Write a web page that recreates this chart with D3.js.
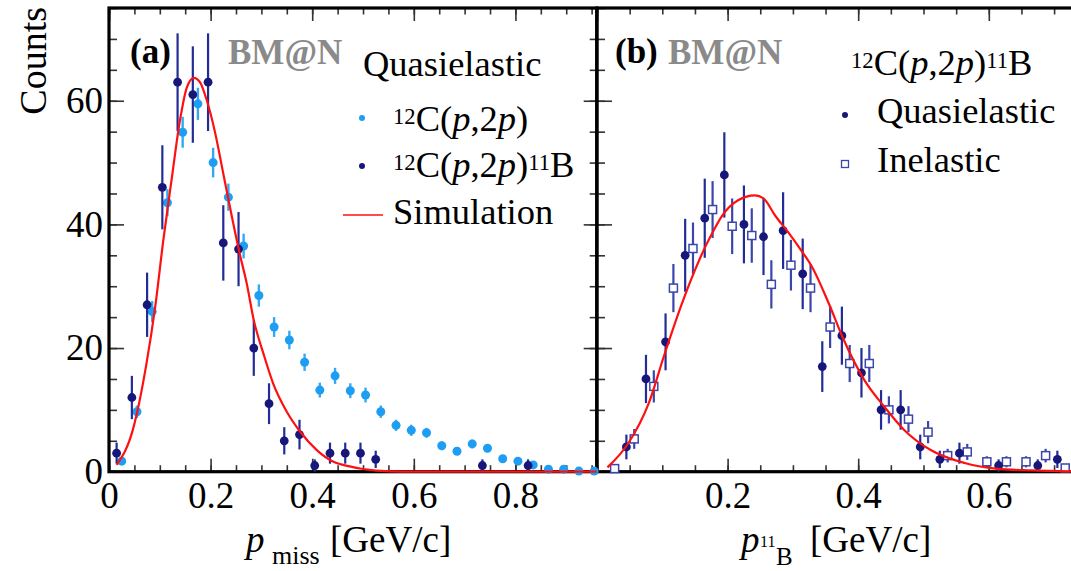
<!DOCTYPE html>
<html>
<head>
<meta charset="utf-8">
<script src="https://cdn.jsdelivr.net/npm/d3@7"></script>
<style>
  html, body { margin: 0; padding: 0; background: #fff; }
  svg { display: block; }
  text, tspan { font-family: "Liberation Serif", "Times New Roman", Times, serif; fill: #000; }
</style>
</head>
<body>
<svg id="chart" width="1071" height="571"></svg>
<script>
// ---------- Panel (a): missing-momentum distributions ----------
// 12C(p,2p)11B events (counts per 0.03 GeV/c bin)
const missBinsBoron   = [0.015, 0.045, 0.075, 0.105, 0.135, 0.165, 0.195, 0.225, 0.255, 0.285,
                         0.315, 0.345, 0.375, 0.405, 0.435, 0.465, 0.495, 0.525, 0.735, 0.825];
const missCountsBoron = [3, 12, 27, 46, 63, 61, 63, 37, 36, 20, 11, 5, 6, 1, 3, 3, 3, 2, 1, 1];
const missErrBoron    = [1.7, 3.5, 5.2, 6.8, 7.9, 7.8, 7.9, 6.1, 6.0, 4.5, 3.3, 2.2, 2.4, 1.0,
                         1.7, 1.7, 1.7, 1.4, 1.0, 1.0];

// inclusive 12C(p,2p) events, scaled
const missBinsAll   = [0.025, 0.055, 0.085, 0.115, 0.145, 0.175, 0.205, 0.235, 0.265, 0.295,
                       0.325, 0.355, 0.385, 0.415, 0.445, 0.475, 0.505, 0.535, 0.565, 0.595,
                       0.625, 0.655, 0.685, 0.715, 0.745, 0.775, 0.805, 0.835, 0.865, 0.895,
                       0.925, 0.955];
const missCountsAll = [1.7, 9.7, 25.9, 43.5, 54.9, 59.5, 50.0, 44.4, 36.5, 28.5,
                       23.4, 21.3, 17.7, 13.2, 15.5, 13.1, 12.4, 9.7, 7.5, 6.7,
                       6.3, 4.2, 3.3, 4.5, 3.8, 2.1, 1.7, 1.1, 0.4, 0.4,
                       0.1, 0.1];
const missErrAll    = [0.5, 1.0, 1.7, 2.2, 2.5, 2.6, 2.4, 2.2, 2.0, 1.8,
                       1.6, 1.5, 1.4, 1.2, 1.3, 1.2, 1.2, 1.0, 0.9, 0.9,
                       0.8, 0.7, 0.6, 0.7, 0.65, 0.5, 0.45, 0.35, 0.2, 0.2,
                       0.1, 0.1];

// simulated distribution
const missSimX = [0.015, 0.047, 0.074, 0.091, 0.107, 0.123, 0.140, 0.153, 0.167, 0.179,
                  0.192, 0.209, 0.225, 0.242, 0.258, 0.271, 0.285, 0.304, 0.323, 0.350,
                  0.376, 0.409, 0.442, 0.474, 0.500, 0.553, 0.600, 0.960];
const missSimY = [1.1, 6.8, 17.6, 26.7, 37.5, 47.1, 57.0, 62.1, 63.7, 63.0,
                  60.2, 54.8, 48.2, 41.2, 35.0, 30.5, 24.5, 19.1, 14.3, 9.7,
                  6.5, 3.5, 1.6, 0.86, 0.44, 0.05, 0.0, 0.0];

// ---------- Panel (b): 11B momentum distributions ----------
const boronBinsQE   = [0.045, 0.075, 0.105, 0.135, 0.165, 0.195, 0.225, 0.255, 0.285, 0.315,
                       0.345, 0.375, 0.405, 0.435, 0.465, 0.495, 0.525, 0.555, 0.615, 0.675, 0.705];
const boronCountsQE = [4, 15, 21, 35, 41, 48, 40, 38, 39, 32, 17, 22, 16, 10, 10, 4, 2, 3, 1, 1, 2];
const boronErrQE    = [2.0, 3.9, 4.6, 5.9, 6.4, 6.9, 6.3, 6.2, 6.2, 5.7, 4.1, 4.7, 4.0, 3.2, 3.2,
                       2.0, 1.4, 1.7, 1.0, 1.0, 1.4];

const boronBinsInel   = [0.027, 0.057, 0.087, 0.117, 0.147, 0.177, 0.207, 0.237, 0.267, 0.297,
                         0.327, 0.357, 0.387, 0.417, 0.447, 0.477, 0.507, 0.537, 0.567, 0.597,
                         0.627, 0.657, 0.687, 0.717];
const boronCountsInel = [0.5, 5.3, 13.8, 29.7, 36.1, 42.4, 39.7, 38.2, 30.3, 33.4,
                         29.7, 23.4, 17.5, 17.5, 10.0, 8.5, 6.4, 2.6, 3.2, 1.6,
                         1.6, 1.6, 2.6, 0.6];
const boronErrInel    = [0.5, 1.6, 2.6, 3.9, 4.2, 4.6, 4.5, 4.4, 3.9, 4.1,
                         3.9, 3.4, 3.0, 3.0, 2.2, 2.1, 1.8, 1.1, 1.3, 0.9,
                         0.9, 0.9, 1.1, 0.55];

const boronSimX = [0.016, 0.048, 0.079, 0.104, 0.130, 0.150, 0.165, 0.178, 0.191, 0.216,
                   0.242, 0.255, 0.273, 0.293, 0.310, 0.330, 0.355, 0.378, 0.409, 0.440,
                   0.470, 0.511, 0.563, 0.614, 0.665, 0.730];
const boronSimY = [0.7, 4.6, 11.0, 19.2, 27.2, 32.6, 36.2, 38.9, 41.3, 43.9,
                   44.7, 44.2, 41.4, 38.7, 36.2, 33.0, 27.2, 21.3, 14.9, 10.5,
                   6.8, 3.5, 1.4, 0.45, 0.2, 0.05];

// ---------- axis ticks ----------
const countTicks   = [0, 20, 40, 60];
const missTicks    = [0, 0.2, 0.4, 0.6, 0.8];
const boronTicks   = [0.2, 0.4, 0.6];

// ---------- layout ----------
const SERIF = '"Liberation Serif", "Times New Roman", Times, serif';
const svg = d3.select("#chart");
const Y0 = 471.7, Y1 = 8;
const y = d3.scaleLinear().domain([0, 75]).range([Y0, Y1]);
const xa = d3.scaleLinear().domain([0, 0.96]).range([109, 596.7]);
const xb = d3.scaleLinear().domain([0, 0.76]).range([597, 597 + 0.76 * 653]);

const C_NAVY = "#17177a", C_NAVY_BAR = "#222c96", C_CYAN = "#1e9ef2",
      C_CYAN_BAR = "#33a9f5", C_SQ = "#3a46aa", C_RED = "#ff1010";

const minorY = d3.range(0, 76, 5);

function ticks(g, axis, values, size, labels, pad) {
  const a = axis.tickValues(values).tickSize(-size).tickPadding(pad || 0);
  a.tickFormat(labels ? (d => d === 0 ? "0" : (Number.isInteger(d) ? String(d) : d.toFixed(1))) : () => "");
  g.call(a);
  g.attr("font-family", SERIF).attr("font-size", 37);
  g.select(".domain").remove();
  g.selectAll(".tick line").attr("stroke", "#333").attr("stroke-width", 1.6);
  g.selectAll(".tick text").style("font-family", SERIF).attr("font-size", 37).style("fill", "#000");
}

function panelAxes(x, xMinor, xMajor, labelX, leftLabels, rightSide) {
  const gx = svg.append("g");
  ticks(gx.append("g").attr("transform", `translate(0,${Y0})`), d3.axisBottom(x), xMinor, 6.5, false);
  ticks(gx.append("g").attr("transform", `translate(0,${Y0})`), d3.axisBottom(x), xMajor, 13, false);
  ticks(gx.append("g").attr("transform", `translate(0,${Y0})`), d3.axisBottom(x), labelX, 0, true, 10);
  ticks(gx.append("g").attr("transform", `translate(0,${Y1})`), d3.axisTop(x), xMinor, 6.5, false);
  ticks(gx.append("g").attr("transform", `translate(0,${Y1})`), d3.axisTop(x), xMajor, 13, false);
  const x0 = x.range()[0];
  ticks(gx.append("g").attr("transform", `translate(${x0},0)`), d3.axisLeft(y), minorY, 8, false);
  ticks(gx.append("g").attr("transform", `translate(${x0},0)`), d3.axisLeft(y), countTicks, 15, leftLabels, 6);
  if (rightSide) {
    const x1 = x.range()[1];
    ticks(gx.append("g").attr("transform", `translate(${x1},0)`), d3.axisRight(y), minorY, 7, false);
    ticks(gx.append("g").attr("transform", `translate(${x1},0)`), d3.axisRight(y), countTicks, 13, false);
  }
}

// minor / major ticks along x
const missMinor = d3.range(0, 0.96, 0.05).map(v => +v.toFixed(2));
const missMajor = [0, 0.2, 0.4, 0.6, 0.8];
const boronMinor = d3.range(0, 0.76, 0.05).map(v => +v.toFixed(2));
const boronMajor = [0, 0.2, 0.4, 0.6];

panelAxes(xa, missMinor, missMajor, missTicks, true, true);
panelAxes(xb, boronMinor, boronMajor, boronTicks, false, false);

// frames
svg.append("rect").attr("x", 109).attr("y", Y1).attr("width", 596.7 - 109).attr("height", Y0 - Y1)
  .attr("fill", "none").attr("stroke", "#000").attr("stroke-width", 3.2);
svg.append("rect").attr("x", 597).attr("y", Y1).attr("width", 520).attr("height", Y0 - Y1)
  .attr("fill", "none").attr("stroke", "#000").attr("stroke-width", 3.2);

// ---------- data drawing helpers ----------
function bars(xs, vs, es, x, color, w) {
  svg.append("g").selectAll("line").data(d3.range(xs.length)).join("line")
    .attr("x1", i => x(xs[i])).attr("x2", i => x(xs[i]))
    .attr("y1", i => y(Math.max(0, vs[i] - es[i]))).attr("y2", i => y(vs[i] + es[i]))
    .attr("stroke", color).attr("stroke-width", w);
}
function dots(xs, vs, x, color, r) {
  svg.append("g").selectAll("circle").data(d3.range(xs.length)).join("circle")
    .attr("cx", i => x(xs[i])).attr("cy", i => y(vs[i])).attr("r", r).attr("fill", color);
}
function squares(xs, vs, x, color, s) {
  svg.append("g").selectAll("rect").data(d3.range(xs.length)).join("rect")
    .attr("x", i => x(xs[i]) - s / 2).attr("y", i => y(vs[i]) - s / 2)
    .attr("width", s).attr("height", s)
    .attr("fill", "#fff").attr("stroke", color).attr("stroke-width", 1.5);
}
function curve(xs, vs, x) {
  const line = d3.line().x(d => x(d[0])).y(d => y(d[1])).curve(d3.curveMonotoneX);
  svg.append("path").datum(xs.map((v, i) => [v, vs[i]]))
    .attr("d", line).attr("fill", "none").attr("stroke", C_RED).attr("stroke-width", 2.2);
}

// panel (a)
bars(missBinsAll, missCountsAll, missErrAll, xa, C_CYAN_BAR, 2.4);
dots(missBinsAll, missCountsAll, xa, C_CYAN, 4.5);
bars(missBinsBoron, missCountsBoron, missErrBoron, xa, C_NAVY_BAR, 2.2);
dots(missBinsBoron, missCountsBoron, xa, C_NAVY, 4.4);
curve(missSimX, missSimY, xa);

// panel (b)
bars(boronBinsInel, boronCountsInel, boronErrInel, xb, C_SQ, 2.2);
squares(boronBinsInel, boronCountsInel, xb, C_SQ, 8);
bars(boronBinsQE, boronCountsQE, boronErrQE, xb, C_NAVY_BAR, 2.2);
dots(boronBinsQE, boronCountsQE, xb, C_NAVY, 4.4);
curve(boronSimX, boronSimY, xb);

// ---------- text ----------
function rich(x, yb, parts, size) {
  const t = svg.append("text").attr("x", x).attr("y", yb).attr("font-size", size);
  let shift = 0;
  parts.forEach(([s, kind]) => {
    const ts = t.append("tspan").text(s);
    let target = 0, fs = size;
    if (kind === "sup") { target = -0.2 * size; fs = 0.62 * size; }
    ts.attr("dy", target - shift).attr("font-size", fs);
    if (kind === "i") ts.attr("font-style", "italic");
    shift = target;
  });
  return t;
}
const reactAll   = [["12", "sup"], ["C(", ""], ["p", "i"], [",2", ""], ["p", "i"], [")", ""]];
const reactBoron = reactAll.concat([["11", "sup"], ["B", ""]]);

// panel labels
svg.append("text").attr("x", 130).attr("y", 63).attr("font-size", 35).attr("font-weight", "bold").text("(a)");
svg.append("text").attr("x", 228).attr("y", 64).attr("font-size", 35).attr("font-weight", "bold")
  .style("fill", "#8a8a8a").text("BM@N");
svg.append("text").attr("x", 615).attr("y", 63).attr("font-size", 35).attr("font-weight", "bold").text("(b)");
svg.append("text").attr("x", 668).attr("y", 64).attr("font-size", 35).attr("font-weight", "bold")
  .style("fill", "#8a8a8a").text("BM@N");

// legend (a)
svg.append("text").attr("x", 363).attr("y", 76).attr("font-size", 36.5).text("Quasielastic");
svg.append("circle").attr("cx", 362).attr("cy", 118).attr("r", 3).attr("fill", C_CYAN);
rich(393, 131, reactAll, 36.5);
svg.append("circle").attr("cx", 362).attr("cy", 166).attr("r", 3).attr("fill", C_NAVY);
rich(393, 177, reactBoron, 36.5);
svg.append("line").attr("x1", 343).attr("x2", 383).attr("y1", 215).attr("y2", 215)
  .attr("stroke", C_RED).attr("stroke-width", 1.5);
svg.append("text").attr("x", 393).attr("y", 224).attr("font-size", 36.5).text("Simulation");

// legend (b)
rich(851, 75, reactBoron, 36.5);
svg.append("circle").attr("cx", 845).attr("cy", 115).attr("r", 3).attr("fill", C_NAVY);
svg.append("text").attr("x", 877).attr("y", 123).attr("font-size", 36.5).text("Quasielastic");
svg.append("rect").attr("x", 841.5).attr("y", 160.5).attr("width", 7).attr("height", 7)
  .attr("fill", "#fff").attr("stroke", C_SQ).attr("stroke-width", 1.3);
svg.append("text").attr("x", 877).attr("y", 172).attr("font-size", 36.5).text("Inelastic");

// axis titles
svg.append("text").attr("transform", "translate(46,7) rotate(-90)").attr("text-anchor", "end")
  .attr("font-size", 38).text("Counts");

const titleA = svg.append("text").attr("y", 552).attr("font-size", 37);
titleA.append("tspan").attr("x", 246).attr("font-style", "italic").text("p");
titleA.append("tspan").attr("x", 272).attr("dy", 12).attr("font-size", 26).text("miss");
titleA.append("tspan").attr("x", 330).attr("dy", -12).text("[GeV/c]");

const titleB = svg.append("text").attr("y", 552).attr("font-size", 37);
titleB.append("tspan").attr("x", 741).attr("font-style", "italic").text("p");
titleB.append("tspan").attr("x", 760).attr("dy", -5).attr("font-size", 16).text("11");
titleB.append("tspan").attr("x", 776).attr("dy", 18).attr("font-size", 25).text("B");
titleB.append("tspan").attr("x", 810).attr("dy", -13).text("[GeV/c]");
</script>
</body>
</html>
